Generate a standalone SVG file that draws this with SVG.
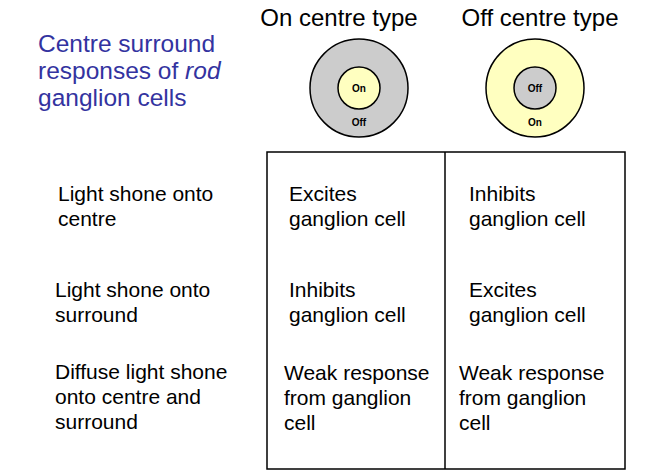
<svg xmlns="http://www.w3.org/2000/svg" width="646" height="473" viewBox="0 0 646 473">
<style>
text{font-family:"Liberation Sans",Arial,sans-serif;fill:#000}
.t{font-size:21px}
.h{font-size:24px}
.s{font-size:10px;font-weight:bold}
.c{stroke:#000;stroke-width:1.5}
</style>
<rect width="646" height="473" fill="#fff"/>
<text x="38" y="52" font-size="24.5" style="fill:#3333a0">Centre surround</text>
<text x="38" y="79" font-size="24.5" style="fill:#3333a0">responses of <tspan font-style="italic">rod</tspan></text>
<text x="38" y="106" font-size="24.5" style="fill:#3333a0">ganglion cells</text>
<text x="339" y="26" class="h" text-anchor="middle">On centre type</text>
<text x="540" y="26" class="h" text-anchor="middle">Off centre type</text>
<g id="on-centre">
<circle cx="359" cy="88" r="49" fill="#cccccc" class="c"/>
<circle cx="359" cy="88" r="21" fill="#ffffc0" class="c"/>
<text x="359" y="92" class="s" text-anchor="middle">On</text>
<text x="359" y="126" class="s" text-anchor="middle">Off</text>
</g>
<g id="off-centre">
<circle cx="535" cy="88" r="49" fill="#ffffc0" class="c"/>
<circle cx="535" cy="88" r="21" fill="#cccccc" class="c"/>
<text x="535" y="92" class="s" text-anchor="middle">Off</text>
<text x="535" y="126" class="s" text-anchor="middle">On</text>
</g>
<g id="table" fill="none" stroke="#000" stroke-width="1.5">
<rect x="267" y="152" width="358" height="317"/>
<line x1="445" y1="152" x2="445" y2="469"/>
</g>
<g class="t">
<text x="58" y="201">Light shone onto</text>
<text x="58" y="226">centre</text>
<text x="55" y="297">Light shone onto</text>
<text x="55" y="322">surround</text>
<text x="55" y="379">Diffuse light shone</text>
<text x="55" y="404">onto centre and</text>
<text x="55" y="429">surround</text>
<text x="289" y="201">Excites</text>
<text x="289" y="226">ganglion cell</text>
<text x="289" y="297">Inhibits</text>
<text x="289" y="322">ganglion cell</text>
<text x="284" y="380">Weak response</text>
<text x="284" y="405">from ganglion</text>
<text x="284" y="430">cell</text>
<text x="469" y="201">Inhibits</text>
<text x="469" y="226">ganglion cell</text>
<text x="469" y="297">Excites</text>
<text x="469" y="322">ganglion cell</text>
<text x="459" y="380">Weak response</text>
<text x="459" y="405">from ganglion</text>
<text x="459" y="430">cell</text>
</g>
</svg>
